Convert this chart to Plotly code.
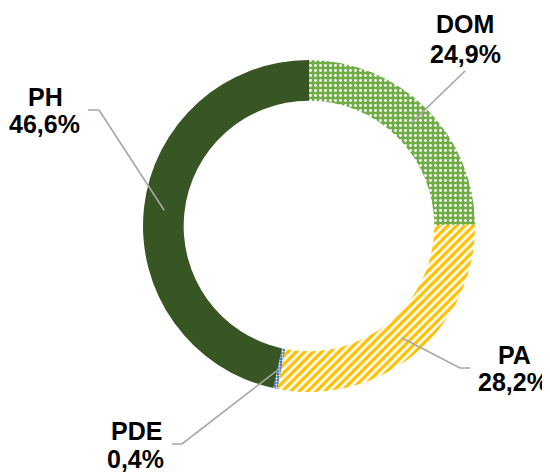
import math
import plotly.graph_objects as go

# ---- data ----
labels = ["DOM", "PA", "PDE", "PH"]
values = [24.9, 28.2, 0.4, 46.6]
colors = ["#70AD47", "#FFC000", "#4472C4", "#375623"]
pattern_shapes = [".", "/", ".", ""]

# ---- layout constants (pixels, in window coordinates) ----
W, H = 550, 472
OFF = 8            # default page body margin
CX, CY = 309, 226
R_OUT = 166
HOLE = 0.755

FW, FH = W - OFF, H - OFF   # figure size so it fits inside the window

# label placement: name centre, value centre, elbow point, line end
label_layout = {
    "DOM": dict(name=(465, 24), val=(465, 54), elbow=None, end=(465, 71)),
    "PA": dict(name=(514, 355), val=(513, 382), elbow=(460, 368), end=(470, 368)),
    "PDE": dict(name=(136, 431), val=(135, 459), elbow=(182, 444), end=(172, 444)),
    "PH": dict(name=(45, 97), val=(44, 124), elbow=(99, 110), end=(88, 110)),
}

fig = go.Figure()

fig.add_trace(go.Pie(
    labels=labels,
    values=values,
    sort=False,
    direction="clockwise",
    rotation=0,
    hole=HOLE,
    textinfo="none",
    showlegend=False,
    marker=dict(
        colors=colors,
        line=dict(width=0),
        pattern=dict(
            shape=pattern_shapes,
            fgcolor=["white"] * len(labels),
            bgcolor=colors,
            size=[5, 6, 3, 5],
            solidity=[0.25, 0.45, 0.3, 0.2],
        ),
    ),
    domain=dict(
        x=[(CX - R_OUT - OFF) / FW, (CX + R_OUT - OFF) / FW],
        y=[(H - (CY + R_OUT)) / FH, (H - (CY - R_OUT)) / FH],
    ),
))

# invisible pixel-space overlay for labels and leader lines
fig.add_trace(go.Scatter(x=[OFF, W], y=[OFF, H], mode="markers",
                         marker=dict(opacity=0), hoverinfo="skip", showlegend=False))

total = sum(values)
r_mid = R_OUT * (1 + HOLE) / 2
cum = 0.0
shapes = []
annotations = []
font = dict(family="Liberation Sans, Arial, sans-serif", size=25, color="black", weight=700)
for lab, v in zip(labels, values):
    mid = (cum + v / 2) / total * 2 * math.pi
    cum += v
    ax = CX + r_mid * math.sin(mid)
    ay = CY - r_mid * math.cos(mid)
    L = label_layout[lab]
    pts = [(ax, ay)]
    if L["elbow"] is not None:
        pts.append(L["elbow"])
    pts.append(L["end"])
    path = "M " + " L ".join(f"{x:.1f},{y:.1f}" for x, y in pts)
    shapes.append(dict(type="path", path=path, xref="x", yref="y",
                       line=dict(color="#A6A6A6", width=1.6)))
    annotations.append(dict(x=L["name"][0], y=L["name"][1], xref="x", yref="y",
                            text=lab, showarrow=False, xanchor="center", yanchor="middle",
                            font=font))
    annotations.append(dict(x=L["val"][0], y=L["val"][1], xref="x", yref="y",
                            text=f"{v:.1f}%".replace(".", ","), showarrow=False,
                            xanchor="center", yanchor="middle", font=font))

fig.update_layout(
    width=FW, height=FH,
    margin=dict(l=0, r=0, t=0, b=0),
    paper_bgcolor="white", plot_bgcolor="rgba(0,0,0,0)",
    xaxis=dict(range=[OFF, W], visible=False, fixedrange=True),
    yaxis=dict(range=[H, OFF], visible=False, fixedrange=True),
    shapes=shapes,
    annotations=annotations,
)

fig.write_html("out.html")
